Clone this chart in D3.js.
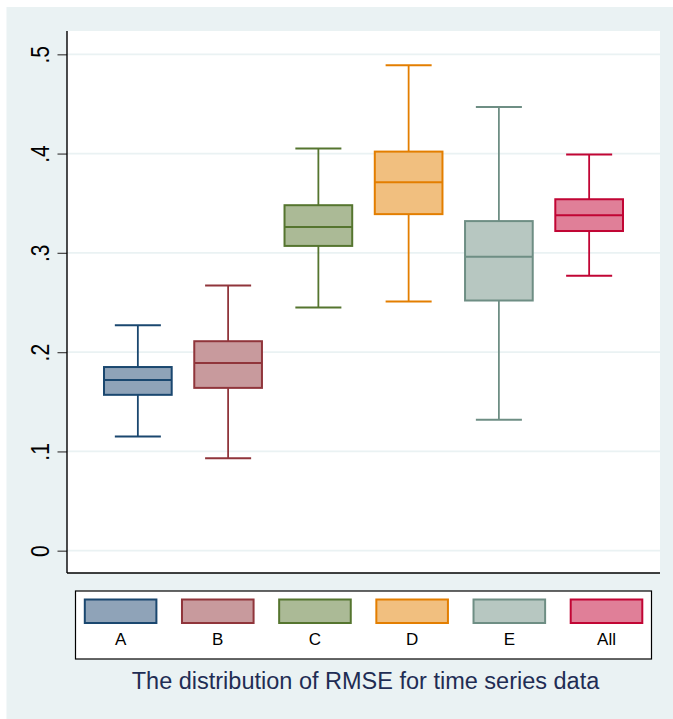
<!DOCTYPE html>
<html>
<head>
<meta charset="utf-8">
<script src="https://cdn.jsdelivr.net/npm/d3@7"></script>
<style>
  body { margin: 0; background: #ffffff; }
  svg { display: block; font-family: "Liberation Sans", Arial, sans-serif; }
</style>
</head>
<body>
<div id="container"></div>
<script>
// box summaries
const groups = ["A", "B", "C", "D", "E", "All"];
const whiskerLow = [0.115, 0.093, 0.245, 0.251, 0.132, 0.277];
const q1 = [0.157, 0.164, 0.307, 0.339, 0.252, 0.322];
const median = [0.172, 0.189, 0.326, 0.371, 0.296, 0.338];
const q3 = [0.185, 0.211, 0.348, 0.402, 0.332, 0.354];
const whiskerHigh = [0.227, 0.267, 0.405, 0.489, 0.447, 0.399];
const yTicks = [0, 0.1, 0.2, 0.3, 0.4, 0.5];
const yTickLabels = ["0", ".1", ".2", ".3", ".4", ".5"];
const title = "The distribution of RMSE for time series data";

const strokeColors = ["#1a476f", "#90353b", "#55752f", "#e37e00", "#6e8e84", "#c10534"];
const fillColors = ["#8fa3b8", "#c89a9d", "#abba96", "#f1bf7f", "#b7c7c1", "#e07f98"];

const width = 673;
const height = 719;
const plot = { left: 67, right: 660, top: 31, bottom: 573 };

const svg = d3
  .select("#container")
  .append("svg")
  .attr("width", width)
  .attr("height", height);

// outer graph region
svg
  .append("rect")
  .attr("x", 6.5)
  .attr("y", 7)
  .attr("width", width - 6.5)
  .attr("height", height - 7)
  .attr("fill", "#eaf2f3");

svg
  .append("rect")
  .attr("x", plot.left)
  .attr("y", plot.top)
  .attr("width", plot.right - plot.left)
  .attr("height", plot.bottom - plot.top)
  .attr("fill", "#ffffff");

const y = d3.scaleLinear().domain([0, 0.5]).range([550.7, 54.3]);
const x = d3
  .scaleBand()
  .domain(groups)
  .range([plot.left, plot.right])
  .paddingInner(0.25)
  .paddingOuter(0.41);

// grid
svg
  .append("g")
  .selectAll("line")
  .data(yTicks)
  .join("line")
  .attr("x1", plot.left)
  .attr("x2", plot.right)
  .attr("y1", (d) => y(d))
  .attr("y2", (d) => y(d))
  .attr("stroke", "#eaf2f3")
  .attr("stroke-width", 1.8);

// y axis
const yAxis = svg
  .append("g")
  .attr("transform", `translate(${plot.left},0)`)
  .call(
    d3
      .axisLeft(y)
      .tickValues(yTicks)
      .tickSize(9.5)
      .tickFormat((d, i) => yTickLabels[i])
  );
yAxis.select(".domain").remove();
yAxis.selectAll(".tick line").attr("stroke", "#4d4d4d").attr("stroke-width", 1.3);
yAxis
  .selectAll(".tick text")
  .attr("x", null)
  .attr("dy", null)
  .attr("text-anchor", "middle")
  .attr("font-size", 21)
  .attr("fill", "#000000")
  .attr("transform", "translate(-18,0) rotate(-90) scale(1,1.25)");

// axis lines
svg
  .append("line")
  .attr("x1", plot.left)
  .attr("x2", plot.left)
  .attr("y1", plot.top)
  .attr("y2", plot.bottom)
  .attr("stroke", "#000000")
  .attr("stroke-width", 1.4);
svg
  .append("line")
  .attr("x1", plot.left)
  .attr("x2", plot.right)
  .attr("y1", plot.bottom)
  .attr("y2", plot.bottom)
  .attr("stroke", "#000000")
  .attr("stroke-width", 1.4);

// boxes
const bw = x.bandwidth();
const capW = bw * 0.68;
groups.forEach((g, i) => {
  const cx = x(g) + bw / 2;
  const box = svg.append("g");
  box
    .append("line")
    .attr("x1", cx)
    .attr("x2", cx)
    .attr("y1", y(whiskerHigh[i]))
    .attr("y2", y(q3[i]))
    .attr("stroke", strokeColors[i])
    .attr("stroke-width", 1.8);
  box
    .append("line")
    .attr("x1", cx)
    .attr("x2", cx)
    .attr("y1", y(q1[i]))
    .attr("y2", y(whiskerLow[i]))
    .attr("stroke", strokeColors[i])
    .attr("stroke-width", 1.8);
  [whiskerHigh[i], whiskerLow[i]].forEach((v) => {
    box
      .append("line")
      .attr("x1", cx - capW / 2)
      .attr("x2", cx + capW / 2)
      .attr("y1", y(v))
      .attr("y2", y(v))
      .attr("stroke", strokeColors[i])
      .attr("stroke-width", 2);
  });
  box
    .append("rect")
    .attr("x", x(g))
    .attr("y", y(q3[i]))
    .attr("width", bw)
    .attr("height", y(q1[i]) - y(q3[i]))
    .attr("fill", fillColors[i])
    .attr("stroke", strokeColors[i])
    .attr("stroke-width", 2);
  box
    .append("line")
    .attr("x1", x(g))
    .attr("x2", x(g) + bw)
    .attr("y1", y(median[i]))
    .attr("y2", y(median[i]))
    .attr("stroke", strokeColors[i])
    .attr("stroke-width", 2);
});

// legend
const legend = svg.append("g");
legend
  .append("rect")
  .attr("x", 75.5)
  .attr("y", 591)
  .attr("width", 576)
  .attr("height", 68)
  .attr("fill", "#ffffff")
  .attr("stroke", "#000000")
  .attr("stroke-width", 1.2);

const lx = d3.scalePoint().domain(groups).range([120.6, 606.5]);
groups.forEach((g, i) => {
  legend
    .append("rect")
    .attr("x", lx(g) - 35.8)
    .attr("y", 599.5)
    .attr("width", 71.6)
    .attr("height", 23.5)
    .attr("fill", fillColors[i])
    .attr("stroke", strokeColors[i])
    .attr("stroke-width", 2);
  legend
    .append("text")
    .attr("x", lx(g))
    .attr("y", 645)
    .attr("text-anchor", "middle")
    .attr("font-size", 17)
    .attr("fill", "#000000")
    .text(g);
});

// title
svg
  .append("text")
  .attr("x", 365.5)
  .attr("y", 689)
  .attr("text-anchor", "middle")
  .attr("font-size", 23.5)
  .attr("fill", "#1f2d54")
  .text(title);
</script>
</body>
</html>
